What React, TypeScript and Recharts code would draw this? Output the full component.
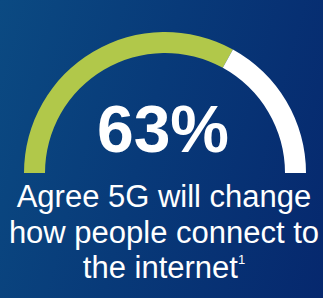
import { PieChart, Pie, Cell } from 'recharts'

// share of the gauge arc as drawn (filled vs rest)
const arcParts = ['agree', 'rest']
const arcValues = [66, 34]
const arcColors = ['#b1c84a', '#ffffff']

const headline = '63%'
const captionLines = ['Agree 5G will change', 'how people connect to', 'the internet']
const footnote = '1'

const data = arcParts.map((name, i) => ({ name, value: arcValues[i] }))

export default function App() {
  return (
    <div
      style={{
        position: 'absolute',
        left: 0,
        top: 0,
        width: 323,
        height: 298,
        overflow: 'hidden',
        background: 'linear-gradient(105deg, #0b4a82 0%, #083a79 45%, #06286e 100%)',
      }}
    >
      <PieChart width={323} height={298} margin={{ top: 0, right: 0, bottom: 0, left: 0 }}>
        <Pie
          data={data}
          dataKey="value"
          cx={165}
          cy={173}
          startAngle={180}
          endAngle={0}
          innerRadius={120}
          outerRadius={141}
          stroke="none"
          isAnimationActive={false}
        >
          {data.map((d, i) => (
            <Cell key={d.name} fill={arcColors[i]} />
          ))}
        </Pie>
        <text
          x={163}
          y={152}
          textAnchor="middle"
          fill="#ffffff"
          style={{ fontFamily: 'Liberation Sans, Arial, sans-serif', fontWeight: 700, fontSize: 66 }}
        >
          {headline}
        </text>
        {captionLines.map((line, i) => (
          <text
            key={line}
            x={164}
            y={207 + i * 35.7}
            textAnchor="middle"
            fill="#ffffff"
            style={{ fontFamily: 'Liberation Sans, Arial, sans-serif', fontSize: 31 }}
          >
            {line}
            {i === captionLines.length - 1 && (
              <tspan dy={-14} style={{ fontSize: 13 }}>
                {footnote}
              </tspan>
            )}
          </text>
        ))}
      </PieChart>
    </div>
  )
}
